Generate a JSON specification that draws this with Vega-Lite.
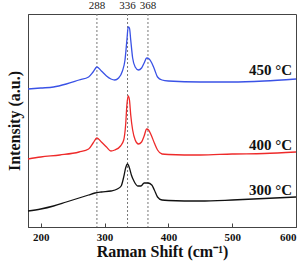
{
  "$schema": "https://vega.github.io/schema/vega-lite/v6.json",
  "width": 268,
  "height": 213,
  "autosize": "none",
  "padding": {"left": 28, "top": 14, "right": 11, "bottom": 42},
  "config": {
    "view": {"stroke": "#444", "strokeWidth": 1},
    "font": "Liberation Serif",
    "text": {"font": "Liberation Serif"}
  },
  "datasets": {
    "spectra": [
      {"s": "300", "x": 180, "y": 16}, {"s": "300", "x": 200, "y": 18}, {"s": "300", "x": 220, "y": 21}, {"s": "300", "x": 240, "y": 25}, {"s": "300", "x": 260, "y": 29}, {"s": "300", "x": 275, "y": 32}, {"s": "300", "x": 285, "y": 34}, {"s": "300", "x": 295, "y": 35}, {"s": "300", "x": 310, "y": 36}, {"s": "300", "x": 320, "y": 38}, {"s": "300", "x": 326, "y": 41}, {"s": "300", "x": 330, "y": 50}, {"s": "300", "x": 333, "y": 59}, {"s": "300", "x": 336, "y": 63}, {"s": "300", "x": 339, "y": 59}, {"s": "300", "x": 342, "y": 52}, {"s": "300", "x": 346, "y": 46}, {"s": "300", "x": 352, "y": 41}, {"s": "300", "x": 357, "y": 41}, {"s": "300", "x": 362, "y": 44}, {"s": "300", "x": 368, "y": 44}, {"s": "300", "x": 374, "y": 42}, {"s": "300", "x": 378, "y": 37}, {"s": "300", "x": 383, "y": 30}, {"s": "300", "x": 390, "y": 27}, {"s": "300", "x": 400, "y": 26.5}, {"s": "300", "x": 450, "y": 26}, {"s": "300", "x": 500, "y": 27}, {"s": "300", "x": 550, "y": 28.5}, {"s": "300", "x": 600, "y": 30},
      {"s": "400", "x": 180, "y": 68}, {"s": "400", "x": 200, "y": 70}, {"s": "400", "x": 230, "y": 72}, {"s": "400", "x": 260, "y": 75}, {"s": "400", "x": 275, "y": 78}, {"s": "400", "x": 282, "y": 84}, {"s": "400", "x": 288, "y": 89}, {"s": "400", "x": 295, "y": 85}, {"s": "400", "x": 303, "y": 80}, {"s": "400", "x": 310, "y": 76}, {"s": "400", "x": 316, "y": 77}, {"s": "400", "x": 325, "y": 81}, {"s": "400", "x": 330, "y": 87}, {"s": "400", "x": 333, "y": 102}, {"s": "400", "x": 335, "y": 122}, {"s": "400", "x": 337, "y": 131}, {"s": "400", "x": 339, "y": 127}, {"s": "400", "x": 341, "y": 112}, {"s": "400", "x": 344, "y": 97}, {"s": "400", "x": 348, "y": 87}, {"s": "400", "x": 353, "y": 83}, {"s": "400", "x": 358, "y": 85}, {"s": "400", "x": 362, "y": 91}, {"s": "400", "x": 366, "y": 98}, {"s": "400", "x": 369, "y": 97}, {"s": "400", "x": 373, "y": 92}, {"s": "400", "x": 378, "y": 84}, {"s": "400", "x": 383, "y": 77}, {"s": "400", "x": 390, "y": 73}, {"s": "400", "x": 400, "y": 72.5}, {"s": "400", "x": 450, "y": 72}, {"s": "400", "x": 500, "y": 73}, {"s": "400", "x": 550, "y": 73.5}, {"s": "400", "x": 600, "y": 75},
      {"s": "450", "x": 180, "y": 138}, {"s": "450", "x": 200, "y": 139}, {"s": "450", "x": 220, "y": 140}, {"s": "450", "x": 240, "y": 143}, {"s": "450", "x": 260, "y": 147}, {"s": "450", "x": 275, "y": 150}, {"s": "450", "x": 282, "y": 155}, {"s": "450", "x": 288, "y": 160}, {"s": "450", "x": 295, "y": 156}, {"s": "450", "x": 303, "y": 151}, {"s": "450", "x": 310, "y": 148}, {"s": "450", "x": 316, "y": 147}, {"s": "450", "x": 322, "y": 149}, {"s": "450", "x": 328, "y": 156}, {"s": "450", "x": 332, "y": 167}, {"s": "450", "x": 335, "y": 187}, {"s": "450", "x": 337, "y": 200}, {"s": "450", "x": 339, "y": 199}, {"s": "450", "x": 341, "y": 187}, {"s": "450", "x": 344, "y": 169}, {"s": "450", "x": 348, "y": 160}, {"s": "450", "x": 353, "y": 157}, {"s": "450", "x": 358, "y": 159}, {"s": "450", "x": 362, "y": 164}, {"s": "450", "x": 366, "y": 169}, {"s": "450", "x": 370, "y": 168}, {"s": "450", "x": 374, "y": 164}, {"s": "450", "x": 378, "y": 158}, {"s": "450", "x": 383, "y": 150}, {"s": "450", "x": 390, "y": 147}, {"s": "450", "x": 400, "y": 146}, {"s": "450", "x": 450, "y": 145}, {"s": "450", "x": 500, "y": 145}, {"s": "450", "x": 550, "y": 146}, {"s": "450", "x": 600, "y": 148}
    ],
    "peaks": [
      {"x": 288, "label": "288", "ly": 221},
      {"x": 336, "label": "336", "ly": 221},
      {"x": 368, "label": "368", "ly": 221}
    ],
    "labels": [
      {"x": 594, "y": 157, "t": "450 °C"},
      {"x": 594, "y": 82, "t": "400 °C"},
      {"x": 594, "y": 37, "t": "300 °C"}
    ]
  },
  "layer": [
    {
      "data": {"name": "peaks"},
      "mark": {"type": "rule", "color": "#777", "strokeDash": [2, 2], "strokeWidth": 1},
      "encoding": {
        "x": {"field": "x", "type": "quantitative", "scale": {"domain": [180, 600], "nice": false}}
      }
    },
    {
      "data": {"name": "spectra"},
      "mark": {"type": "line", "strokeWidth": 1.3, "interpolate": "monotone"},
      "encoding": {
        "x": {
          "field": "x", "type": "quantitative",
          "scale": {"domain": [180, 600], "nice": false},
          "axis": {
            "title": "Raman Shift (cm⁻¹)",
            "titleFont": "Liberation Serif", "titleFontSize": 16, "titleFontWeight": "bold", "titleColor": "#111", "titlePadding": 1,
            "values": [200, 250, 300, 350, 400, 450, 500, 550, 600],
            "labelExpr": "datum.value % 100 === 0 ? datum.label : ''",
            "labelFont": "Liberation Serif", "labelFontSize": 11, "labelFontWeight": "bold", "labelColor": "#111",
            "labelPadding": 8,
            "tickSize": -4, "tickColor": "#444", "domainColor": "#444", "grid": false
          }
        },
        "y": {
          "field": "y", "type": "quantitative",
          "scale": {"domain": [0, 213], "nice": false},
          "axis": {
            "title": "Intensity (a.u.)",
            "titleFont": "Liberation Serif", "titleFontSize": 16, "titleFontWeight": "bold", "titleColor": "#111", "titlePadding": 6,
            "labels": false, "ticks": false, "grid": false, "domainColor": "#444"
          }
        },
        "color": {
          "field": "s", "type": "nominal", "legend": null,
          "scale": {"domain": ["300", "400", "450"], "range": ["#111111", "#ee2a2a", "#3a52e6"]}
        }
      }
    },
    {
      "data": {"name": "peaks"},
      "mark": {"type": "text", "font": "Liberation Serif", "fontSize": 11, "color": "#222", "clip": false},
      "encoding": {
        "x": {"field": "x", "type": "quantitative"},
        "y": {"field": "ly", "type": "quantitative"},
        "text": {"field": "label"}
      }
    },
    {
      "data": {"name": "labels"},
      "mark": {"type": "text", "font": "Liberation Serif", "fontSize": 15, "fontWeight": "bold", "color": "#111", "align": "right", "baseline": "middle"},
      "encoding": {
        "x": {"field": "x", "type": "quantitative"},
        "y": {"field": "y", "type": "quantitative"},
        "text": {"field": "t"}
      }
    }
  ]
}
